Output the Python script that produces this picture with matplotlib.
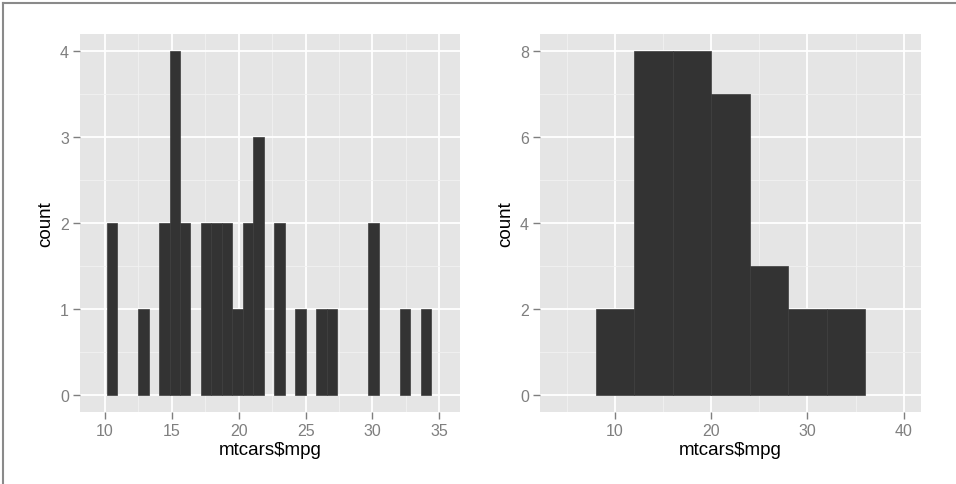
import matplotlib
matplotlib.use("Agg")
import matplotlib.pyplot as plt
from matplotlib.lines import Line2D
import numpy as np

plt.rcParams['font.family'] = ['Liberation Sans', 'DejaVu Sans']

# left histogram: default binwidth (range / 30)
left_bin_start = 10.13
left_binwidth = 0.783
left_counts = [2, 0, 0, 1, 0, 2, 4, 2, 0, 2, 2, 2, 1, 2, 3, 0,
               2, 0, 1, 0, 1, 1, 0, 0, 0, 2, 0, 0, 1, 0, 1]
left_xticks = [10, 15, 20, 25, 30, 35]
left_yticks = [0, 1, 2, 3, 4]

# right histogram: binwidth = 4
right_edges = [8, 12, 16, 20, 24, 28, 32]
right_binwidth = 4
right_counts = [2, 8, 8, 7, 3, 2, 2]
right_xticks = [10, 20, 30, 40]
right_yticks = [0, 2, 4, 6, 8]

W, H = 956, 485
fig = plt.figure(figsize=(W / 100, H / 100), dpi=100)

panel_bg = '#E5E5E5'
bar_col = '#333333'
tick_col = '#7F7F7F'


def style_axes(ax, xlim, ylim, xticks, yticks, xminor, yminor):
    ax.set_facecolor(panel_bg)
    ax.set_xlim(xlim)
    ax.set_ylim(ylim)
    ax.set_xticks(xticks)
    ax.set_yticks(yticks)
    ax.set_xticks(xminor, minor=True)
    ax.set_yticks(yminor, minor=True)
    ax.grid(which='major', color='white', linewidth=1.3)
    ax.grid(which='minor', color='#F2F2F2', linewidth=0.6)
    ax.set_axisbelow(True)
    for s in ax.spines.values():
        s.set_visible(False)
    ax.tick_params(which='major', direction='out', length=5, width=1,
                   color=tick_col, labelcolor=tick_col, labelsize=11.5, pad=3)
    ax.tick_params(which='minor', length=0)
    ax.set_xlabel('mtcars$mpg', fontsize=13.5, labelpad=2)
    ax.set_ylabel('count', fontsize=13.5, labelpad=4)


def px_axes(x0, y0, x1, y1):
    return fig.add_axes([x0 / W, 1 - y1 / H, (x1 - x0) / W, (y1 - y0) / H])


def draw_hist(ax, lefts, counts, width):
    lefts = np.asarray(lefts, dtype=float)
    counts = np.asarray(counts)
    keep = counts > 0  # empty bins draw nothing
    ax.bar(lefts[keep], counts[keep], width=width, align='edge',
           color=bar_col, edgecolor='#3C3C3C', linewidth=0.5)


# left panel
ax1 = px_axes(80, 35, 460, 413)
left_lefts = left_bin_start + left_binwidth * np.arange(len(left_counts))
draw_hist(ax1, left_lefts, left_counts, left_binwidth)
style_axes(ax1, (8.13, 36.55), (-0.2, 4.2), left_xticks, left_yticks,
           [12.5, 17.5, 22.5, 27.5, 32.5], [0.5, 1.5, 2.5, 3.5])

# right panel
ax2 = px_axes(540, 35, 921, 413)
draw_hist(ax2, right_edges, right_counts, right_binwidth)
style_axes(ax2, (2.2, 41.8), (-0.4, 8.4), right_xticks, right_yticks,
           [5, 15, 25, 35], [1, 3, 5, 7])

# thin grey frame on the top and left edges
fig.add_artist(Line2D([3 / W, 1], [1 - 4 / H, 1 - 4 / H],
                      transform=fig.transFigure, color='#8A8A8A', linewidth=1.5))
fig.add_artist(Line2D([3 / W, 3 / W], [0, 1 - 4 / H],
                      transform=fig.transFigure, color='#8A8A8A', linewidth=1.5))

fig.savefig('out.png', dpi=100, facecolor='white')
